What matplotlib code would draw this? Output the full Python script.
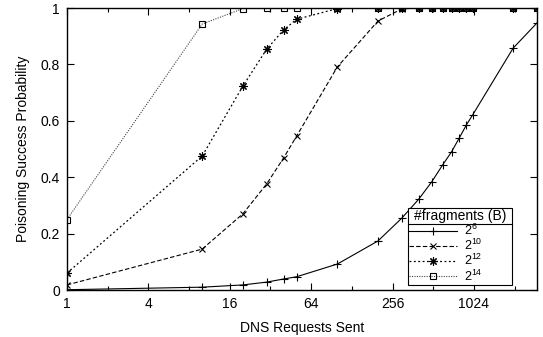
import matplotlib
matplotlib.use('Agg')
from matplotlib import pyplot as plt
from matplotlib.ticker import FixedLocator, FixedFormatter, NullFormatter
from matplotlib.lines import Line2D

plt.rcParams['font.family'] = ['Liberation Sans', 'DejaVu Sans']
plt.rcParams['font.size'] = 10
plt.rcParams['mathtext.fontset'] = 'custom'
plt.rcParams['mathtext.rm'] = 'Liberation Sans'
plt.rcParams['mathtext.it'] = 'Liberation Sans'

requests = [1, 10, 20, 30, 40, 50, 100, 200, 300, 400, 500, 600, 700, 800, 900, 1000, 2000, 3000]
p_2_6 = [0.001, 0.01, 0.018, 0.028, 0.039, 0.047, 0.092, 0.174, 0.255, 0.322, 0.384,
         0.443, 0.49, 0.54, 0.585, 0.62, 0.858, 0.947]
p_2_10 = [0.018, 0.145, 0.27, 0.376, 0.468, 0.546, 0.791, 0.954, 0.997, 1, 1, 1, 1, 1, 1, 1, 1, 1]
p_2_12 = [0.06, 0.475, 0.723, 0.854, 0.922, 0.96, 0.998, 1, 1, 1, 1, 1, 1, 1, 1, 1, 1, 1]
p_2_14 = [0.25, 0.943, 0.998, 1, 1, 1, 1, 1, 1, 1, 1, 1, 1, 1, 1, 1, 1, 1]
labels = ['$2^{6}$', '$2^{10}$', '$2^{12}$', '$2^{14}$']
xticks = [1, 4, 16, 64, 256, 1024]
xminor = [2, 8, 32, 128, 512, 2048]

fig = plt.figure(figsize=(5.43, 3.37), dpi=100)
ax = fig.add_axes([67 / 543, 1 - 290 / 337, 470 / 543, 282 / 337])

ax.plot(requests, p_2_6, color='black', lw=0.8, ls='-', marker='+', ms=6, mew=0.8, label=labels[0])
ax.plot(requests, p_2_10, color='black', lw=0.8, ls=(0, (4, 2)), marker='x', ms=5, mew=0.8, label=labels[1])
ax.plot(requests, p_2_12, color='black', lw=0.9, ls=(0, (1.5, 2)), marker=(8, 2, 0), ms=6, mew=0.8, label=labels[2])
ax.plot(requests, p_2_14, color='#444444', lw=0.8, ls=(0, (1, 1.2)), marker='s', ms=5, mew=0.8,
        mfc='none', mec='black', label=labels[3])

ax.set_xscale('log', base=2)
ax.set_xlim(1, 3000)
ax.set_ylim(0, 1)
ax.xaxis.set_major_locator(FixedLocator(xticks))
ax.xaxis.set_major_formatter(FixedFormatter([str(t) for t in xticks]))
ax.xaxis.set_minor_locator(FixedLocator(xminor))
ax.xaxis.set_minor_formatter(NullFormatter())
ax.set_yticks([0, 0.2, 0.4, 0.6, 0.8, 1])
ax.set_yticklabels(['0', '0.2', '0.4', '0.6', '0.8', '1'])
ax.tick_params(which='both', direction='in', top=True, right=True, width=0.8, pad=5)
ax.tick_params(which='major', length=5)
ax.tick_params(which='minor', length=3)
for s in ax.spines.values():
    s.set_linewidth(1)

ax.set_xlabel('DNS Requests Sent', labelpad=7)
ax.set_ylabel('Poisoning Success Probability', labelpad=8)

leg = ax.legend(title='#fragments (B)', loc='lower left', bbox_to_anchor=(0.7255, 0.018, 0.2215, 0.244),
                mode='expand', fancybox=False, edgecolor='black', framealpha=1, handlelength=3.8,
                labelspacing=0.0, borderpad=0.1, handletextpad=0.6, borderaxespad=0,
                fontsize=9, title_fontsize=10, handleheight=0.6)
leg.get_frame().set_linewidth(0.8)

# separator line under the legend title
fig.canvas.draw()
r = fig.canvas.get_renderer()
tb = leg.get_title().get_window_extent(r)
fb = leg.get_frame().get_window_extent(r)
inv = fig.transFigure.inverted()
y_sep = inv.transform((0, tb.y0 - 1))[1]
x0 = inv.transform((fb.x0, 0))[0]
x1 = inv.transform((fb.x1, 0))[0]
fig.add_artist(Line2D([x0, x1], [y_sep, y_sep], transform=fig.transFigure, color='black', lw=0.8))

fig.savefig('out.png', dpi=100)
